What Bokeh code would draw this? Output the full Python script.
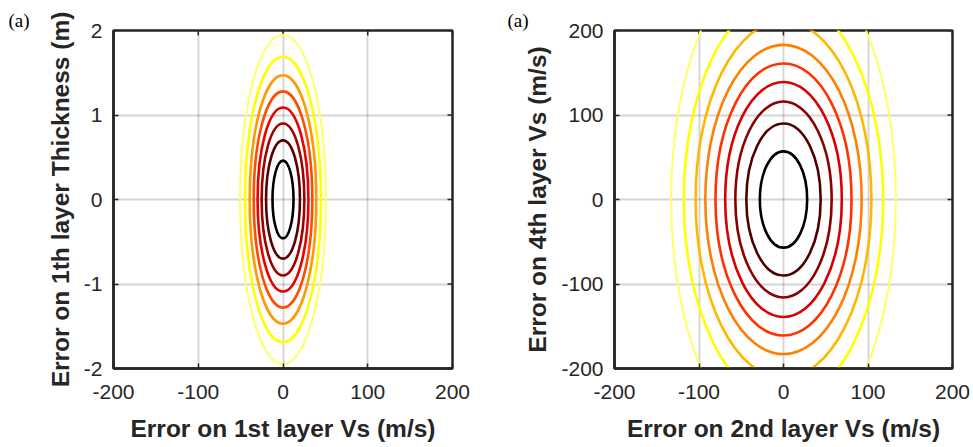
import math
from bokeh.plotting import figure
from bokeh.models import FixedTicker, Range1d, ColumnDataSource
from bokeh.layouts import row
from bokeh.embed import file_html
from bokeh.resources import INLINE

# ---------------- data ----------------
x_ticks = [-200, -100, 0, 100, 200]
left_y_ticks = [-2, -1, 0, 1, 2]
right_y_ticks = [-200, -100, 0, 100, 200]

# left panel: error contours (semi-axes) on 1st layer Vs (m/s) and 1st layer thickness (m)
left_vs1_semi = [12.4, 20.0, 25.2, 30.0, 34.6, 39.3, 44.8, 50.7]
left_thk_semi = [0.46, 0.70, 0.90, 1.09, 1.28, 1.47, 1.69, 1.95]
left_colors = ["#000000", "#5a0000", "#a00000", "#e60000", "#ff4d00", "#ff9900", "#ffff00", "#ffff66"]

# right panel: error contours (semi-axes) on 2nd layer Vs and 4th layer Vs (m/s)
right_vs2_semi = [28, 44, 57, 69, 80.5, 92.5, 104, 118, 133]
right_vs4_semi = [57, 90, 116, 139, 161, 183, 211, 239, 295]
right_colors = ["#000000", "#4d0000", "#8b0000", "#d80000", "#ff3300", "#ff8000", "#ffb800", "#ffff00", "#ffff66"]

left_xlabel = "Error on 1st layer Vs (m/s)"
left_ylabel = "Error on 1th layer Thickness (m)"
right_xlabel = "Error on 2nd layer Vs (m/s)"
right_ylabel = "Error on 4th layer Vs (m/s)"
panel_tag = "(a)"

LABEL_COLOR = "#262626"


def make_fig(left_b, right_b, top_b, bottom_b, fw, fh, xr, yr, yticks,
             xlabel, ylabel, xl_standoff, yl_standoff, tag_offset):
    p = figure(frame_width=fw, frame_height=fh,
               x_range=Range1d(*xr), y_range=Range1d(*yr),
               output_backend="svg", toolbar_location=None,
               min_border_left=left_b, min_border_right=right_b,
               min_border_top=top_b, min_border_bottom=bottom_b)
    p.xaxis.ticker = FixedTicker(ticks=x_ticks)
    p.yaxis.ticker = FixedTicker(ticks=yticks)
    p.xaxis.major_label_overrides = {t: str(t) for t in x_ticks}
    p.yaxis.major_label_overrides = {t: str(t) for t in yticks}
    for ax in p.axis:
        ax.major_tick_in = 5
        ax.major_tick_out = 0
        ax.minor_tick_line_color = None
        ax.major_tick_line_color = LABEL_COLOR
        ax.major_tick_line_width = 1.5
        ax.axis_line_color = LABEL_COLOR
        ax.axis_line_width = 2.5
        ax.major_label_text_font = "Liberation Sans"
        ax.major_label_text_font_size = "21px"
        ax.major_label_text_color = LABEL_COLOR
        ax.axis_label_text_font = "Liberation Sans"
        ax.axis_label_text_font_style = "bold"
        ax.axis_label_text_font_size = "24.5px"
        ax.axis_label_text_color = LABEL_COLOR
    for ax in p.below:
        ax.major_label_standoff = 16
        ax.axis_label = xlabel
        ax.axis_label_standoff = xl_standoff
    for ax in p.left:
        ax.major_label_standoff = 11
        ax.axis_label = ylabel
        ax.axis_label_standoff = yl_standoff
    p.outline_line_color = LABEL_COLOR
    p.outline_line_width = 2.5
    p.xgrid.ticker = FixedTicker(ticks=x_ticks)
    p.ygrid.ticker = FixedTicker(ticks=yticks)
    p.grid.grid_line_color = "#000000"
    p.grid.grid_line_alpha = 0.17
    p.grid.grid_line_width = 1.8
    p.background_fill_color = "white"
    p.border_fill_color = "white"
    p.title.text = panel_tag
    p.title.text_font = "Liberation Serif"
    p.title.text_font_style = "normal"
    p.title.text_font_size = "19px"
    p.title.text_color = "#000000"
    p.title.align = "left"
    p.title.offset = tag_offset
    p.title.standoff = 0
    # inward tick marks on the top and right edges (MATLAB box style)
    p.scatter(x=x_ticks, y=[yr[1]] * len(x_ticks), marker="dash", angle=math.pi / 2,
              size=10, line_color=LABEL_COLOR, line_width=1.5)
    p.scatter(x=[xr[1]] * len(yticks), y=yticks, marker="dash",
              size=10, line_color=LABEL_COLOR, line_width=1.5)
    return p


# ---------------- left panel ----------------
L_X0, L_Y0, L_FW, L_FH = 113, 29, 339, 338
p1 = make_fig(L_X0, 480 - L_X0 - L_FW, L_Y0, 447 - L_Y0 - L_FH, L_FW, L_FH,
              (-200, 200), (-2, 2), left_y_ticks, left_xlabel, left_ylabel,
              13, 7, 8 - L_X0)

n1 = len(left_vs1_semi)
src1 = ColumnDataSource(dict(
    x=[0] * n1, y=[0] * n1,
    w=[2 * a for a in left_vs1_semi], h=[2 * b for b in left_thk_semi],
    c=left_colors, lw=[2.6] * (n1 - 1) + [2.0],
))
p1.ellipse(x="x", y="y", width="w", height="h", source=src1,
           fill_color=None, line_color="c", line_width="lw")

# ---------------- right panel ----------------
R_X0, R_Y0, R_FW, R_FH = 134, 30, 338, 338
p2 = make_fig(R_X0, 493 - R_X0 - R_FW, R_Y0, 447 - R_Y0 - R_FH, R_FW, R_FH,
              (-200, 200), (-200, 200), right_y_ticks, right_xlabel, right_ylabel,
              13, 7, 27 - R_X0)

n2 = len(right_vs2_semi)
src2 = ColumnDataSource(dict(
    x=[0] * n2, y=[0] * n2,
    w=[2 * a for a in right_vs2_semi], h=[2 * b for b in right_vs4_semi],
    c=right_colors, lw=[2.6] * (n2 - 1) + [2.0],
))
p2.ellipse(x="x", y="y", width="w", height="h", source=src2,
           fill_color=None, line_color="c", line_width="lw")

layout = row(p1, p2)
open("out.html", "w").write(file_html(layout, INLINE))
